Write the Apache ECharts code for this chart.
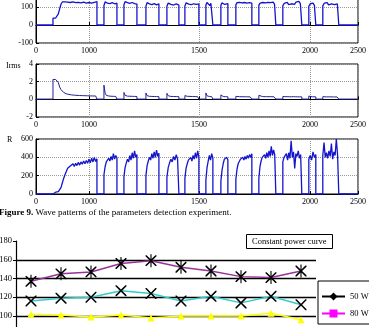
<!DOCTYPE html>
<html>
<head>
<meta charset="utf-8">
<script src="https://cdn.jsdelivr.net/npm/echarts@6/dist/echarts.min.js"></script>
<style>
html, body { margin: 0; padding: 0; background: #fff; }
#main { width: 369px; height: 327px; }
</style>
</head>
<body>
<div id="main"></div>
<script>
// time axis of the three wave panels (sample index) and its printed labels
var tickPos = [0, 477, 1468, 2468, 2900];
var tickLabels = ['0', '1000', '1500', '2000', '2500'];

// on-periods of the detection experiment
var segStart = [153, 612, 792, 990, 1179, 1341, 1530, 1665, 1800, 2007, 2223, 2457, 2583];
var segEnd   = [549, 729, 909, 1107, 1287, 1467, 1593, 1728, 1944, 2160, 2394, 2520, 2727];

// top panel, values read along each on-period
var uSeg = [
	[38,38,39,40,62,90,115,128,136,129,138,127,134,125,136,128,132,124,135,126,131,123,134,127,130,122,133,125,129,121,132,126,128,130],
	[108,128,134,122,130,119,127,124,131,118,126,121],
	[112,130,136,124,132,120,129,125,133,119,127,116],
	[105,124,128,117,125,113,122,119,126,112,121,118],
	[104,122,127,115,124,111,120,117,123,110],
	[106,123,126,116,124,113,121,118,125,114,122,117],
	[110,125,118,124,108,121,117,122],
	[108,123,117,125,114,120,116,119],
	[112,124,120,126,117,123,119,125,116,122,118,124,115,121],
	[110,122,118,125,116,123,119,126,117,124,120,127,115,121],
	[108,120,116,126,113,124,118,129,115,127,117,131,119,123],
	[104,118,112,121,109,115],
	[106,121,115,124,112,120,117,126,113,122,118,116]
];

// Irms panel
var irmsSeg = [
	[2.25,2.28,2.25,2.2,1.9,1.4,1.1,0.9,0.78,0.7,0.63,0.58,0.55,0.52,0.5,0.48,0.47,0.46,0.45,0.44,0.43,0.42,0.42,0.41,0.41,0.4,0.4,0.4,0.39,0.39,0.38,0.38,0.38,0.37],
	[1.6,0.7,0.45,0.4,0.38,0.36,0.35,0.35,0.34,0.34,0.33,0.33],
	[0.78,0.45,0.38,0.36,0.35,0.35,0.34,0.34,0.33,0.33,0.32,0.32],
	[0.72,0.42,0.36,0.34,0.33,0.33,0.32,0.32,0.31,0.31,0.3,0.3],
	[0.68,0.4,0.35,0.33,0.32,0.32,0.31,0.31,0.3,0.3],
	[0.42,0.36,0.34,0.33,0.33,0.32,0.32,0.31,0.31,0.3,0.3,0.3],
	[0.72,0.4,0.34,0.32,0.31,0.3,0.3],
	[0.5,0.36,0.32,0.31,0.3,0.3,0.29],
	[0.34,0.31,0.3,0.3,0.29,0.3,0.29,0.29,0.28,0.28],
	[0.45,0.33,0.31,0.3,0.3,0.29,0.3,0.29,0.29,0.28],
	[0.32,0.3,0.3,0.29,0.29,0.3,0.29,0.29,0.28,0.28],
	[0.36,0.3,0.29,0.28,0.28],
	[0.3,0.29,0.28,0.29,0.28,0.28,0.27,0.28,0.27,0.27]
];

// R panel
var rSeg = [
	[18,20,20,22,25,30,70,120,170,210,245,280,270,305,290,330,300,335,310,345,315,350,325,360,330,365,335,380,340,390,350,400,355,385],
	[210,300,350,330,390,360,410,370,440,380,420,395],
	[190,290,340,380,350,420,370,450,390,470,400,430],
	[200,310,360,400,370,440,390,460,400,480,410,445],
	[180,290,340,380,350,410,370,430,380,400],
	[170,280,330,370,350,400,360,420,380,450,390,470,400],
	[150,290,360,420,370,440,390],
	[140,260,330,380,360,400,370],
	[160,270,330,350,380,360,400,370,410,380,420,390,430,400,440],
	[170,300,360,400,380,430,390,450,400,470,410,520,420,480,430,450],
	[350,400,380,440,370,450,390,580,400,460,280,440,410,470,390,430,420],
	[380,420,370,460,400,430],
	[420,560,400,450,390,470,410,550,380,460,420,600,430,450]
];

// constant power curve
var points = ['1','2','3','4','5','6','7','8','9','10'];
var w50 = [];
var w80 = [];
var w100 = [102, 101, 99, 101, 98, 100, 100, 100, 103, 96];
var w120 = [116, 119, 120, 127, 124, 116, 121, 114, 121, 112];
var w150 = [137, 145, 147, 156, 159, 152, 148, 142, 141, 148];

var serif = 'Liberation Serif';

function buildWave(segs, base) {
	var pts = [[0, base]];
	segStart.forEach(function (s, k) {
		var e = segEnd[k], v = segs[k], n = v.length;
		pts.push([s, base]);
		v.forEach(function (y, i) {
			pts.push([s + (e - s) * i / (n - 1), y]);
		});
		pts.push([e, base]);
	});
	pts.push([2900, base]);
	return pts;
}

function waveX(idx) {
	return {
		type: 'value', gridIndex: idx, min: 0, max: 2900,
		axisLine: {show: true, lineStyle: {color: '#000'}},
		axisTick: {show: true, inside: true, length: 3, customValues: tickPos, lineStyle: {color: '#000'}},
		axisLabel: {
			customValues: tickPos, margin: 4, color: '#000', fontFamily: serif, fontSize: 8,
			formatter: function (v) { return tickLabels[tickPos.indexOf(v)]; }
		},
		splitLine: {show: true, lineStyle: {color: '#999', type: 'dotted', width: 1}}
	};
}

function waveY(idx, min, max, step) {
	return {
		type: 'value', gridIndex: idx, min: min, max: max, interval: step,
		axisLine: {show: true, lineStyle: {color: '#000'}},
		axisTick: {show: true, inside: true, length: 3, lineStyle: {color: '#000'}},
		axisLabel: {margin: 3, color: '#000', fontFamily: serif, fontSize: 8},
		splitLine: {show: true, lineStyle: {color: '#999', type: 'dotted', width: 1}}
	};
}

var xPath = 'path://M0,0L2,0L10,8L18,0L20,0L20,2L12,10L20,18L20,20L18,20L10,12L2,20L0,20L0,18L8,10L0,2Z';
var starPath = 'path://M0,0L2,0L10,8L18,0L20,0L20,2L12,10L20,18L20,20L18,20L10,12L2,20L0,20L0,18L8,10L0,2Z'
	+ 'M9,-2L11,-2L11,22L9,22Z';

var myChart = echarts.init(document.getElementById('main'));

var option = {
	animation: false,
	backgroundColor: '#fff',
	title: {
		text: 'Constant power curve',
		left: 246, top: 234,
		borderColor: '#000', borderWidth: 1,
		padding: [3, 6],
		textStyle: {fontSize: 8.5, fontWeight: 'normal', fontFamily: serif, color: '#000'}
	},
	legend: {
		orient: 'vertical', left: 318, top: 281,
		data: ['50 W', '80 W', '100 W', '120 W', '150 W'],
		backgroundColor: '#fff', borderColor: '#000', borderWidth: 1,
		padding: [11, 4, 6, 3], itemGap: 8, itemWidth: 23, itemHeight: 10,
		textStyle: {fontFamily: serif, fontSize: 8.5, color: '#000'}
	},
	graphic: [
		{type: 'text', left: 6, top: 62, style: {text: 'Irms', fontFamily: serif, fontSize: 8, fill: '#000'}},
		{type: 'text', left: 7, top: 136, style: {text: 'R', fontFamily: serif, fontSize: 8, fill: '#000'}},
		{type: 'text', left: -1, top: 208, style: {
			text: '{b|Figure 9.} Wave patterns of the parameters detection experiment.',
			fontFamily: serif, fontSize: 9, fill: '#000',
			rich: {b: {fontFamily: serif, fontSize: 9, fontWeight: 'bold', fill: '#000'}}
		}}
	],
	grid: [
		{left: 36, top: -11, width: 322, height: 54, outerBoundsMode: 'none', show: true, borderColor: '#000', borderWidth: 1},
		{left: 36, top: 64, width: 322, height: 53, outerBoundsMode: 'none', show: true, borderColor: '#000', borderWidth: 1},
		{left: 36, top: 139, width: 322, height: 55, outerBoundsMode: 'none', show: true, borderColor: '#000', borderWidth: 1},
		{left: 16, top: 241, width: 300, height: 112.5, outerBoundsMode: 'none'}
	],
	xAxis: [
		waveX(0), waveX(1), waveX(2),
		{
			type: 'category', gridIndex: 3, data: points, boundaryGap: true,
			axisLine: {show: false}, axisTick: {show: false}, axisLabel: {show: false}
		}
	],
	yAxis: [
		waveY(0, -100, 200, 100),
		waveY(1, -2, 4, 2),
		waveY(2, 0, 600, 200),
		{
			type: 'value', gridIndex: 3, min: 60, max: 180, interval: 20,
			axisLine: {show: true, lineStyle: {color: '#000', width: 1.2}},
			axisTick: {show: true, length: 3, lineStyle: {color: '#000'}},
			axisLabel: {margin: 4, color: '#000', fontFamily: serif, fontSize: 8.5},
			splitLine: {show: true, showMaxLine: false, lineStyle: {color: '#000', width: 1.3}}
		}
	],
	series: [
		{
			type: 'line', xAxisIndex: 0, yAxisIndex: 0, data: buildWave(uSeg, 0),
			symbol: 'none', lineStyle: {color: '#1414cc', width: 1.3}
		},
		{
			type: 'line', xAxisIndex: 1, yAxisIndex: 1, data: buildWave(irmsSeg, 0.03),
			symbol: 'none', lineStyle: {color: '#22229a', width: 1}
		},
		{
			type: 'line', xAxisIndex: 2, yAxisIndex: 2, data: buildWave(rSeg, 0),
			symbol: 'none', lineStyle: {color: '#1414cc', width: 1.3}
		},
		{
			name: '50 W', type: 'line', xAxisIndex: 3, yAxisIndex: 3, data: w50,
			symbol: 'diamond', symbolSize: 7, itemStyle: {color: '#000'}, lineStyle: {color: '#000', width: 1.5}
		},
		{
			name: '80 W', type: 'line', xAxisIndex: 3, yAxisIndex: 3, data: w80,
			symbol: 'rect', symbolSize: 7, itemStyle: {color: '#ff00ff'}, lineStyle: {color: '#ff00ff', width: 1.5}
		},
		{
			name: '100 W', type: 'line', xAxisIndex: 3, yAxisIndex: 3, data: w100,
			symbol: 'triangle', symbolSize: 7, itemStyle: {color: '#ffff00'}, lineStyle: {color: '#ffff00', width: 1.5}
		},
		{
			name: '120 W', type: 'line', xAxisIndex: 3, yAxisIndex: 3, data: w120,
			symbol: xPath, symbolSize: 11, itemStyle: {color: '#000'}, lineStyle: {color: '#33cccc', width: 1.5}
		},
		{
			name: '150 W', type: 'line', xAxisIndex: 3, yAxisIndex: 3, data: w150,
			symbol: starPath, symbolSize: [11, 13], itemStyle: {color: '#000'}, lineStyle: {color: '#993399', width: 1.5}
		}
	]
};

myChart.setOption(option);
</script>
</body>
</html>
